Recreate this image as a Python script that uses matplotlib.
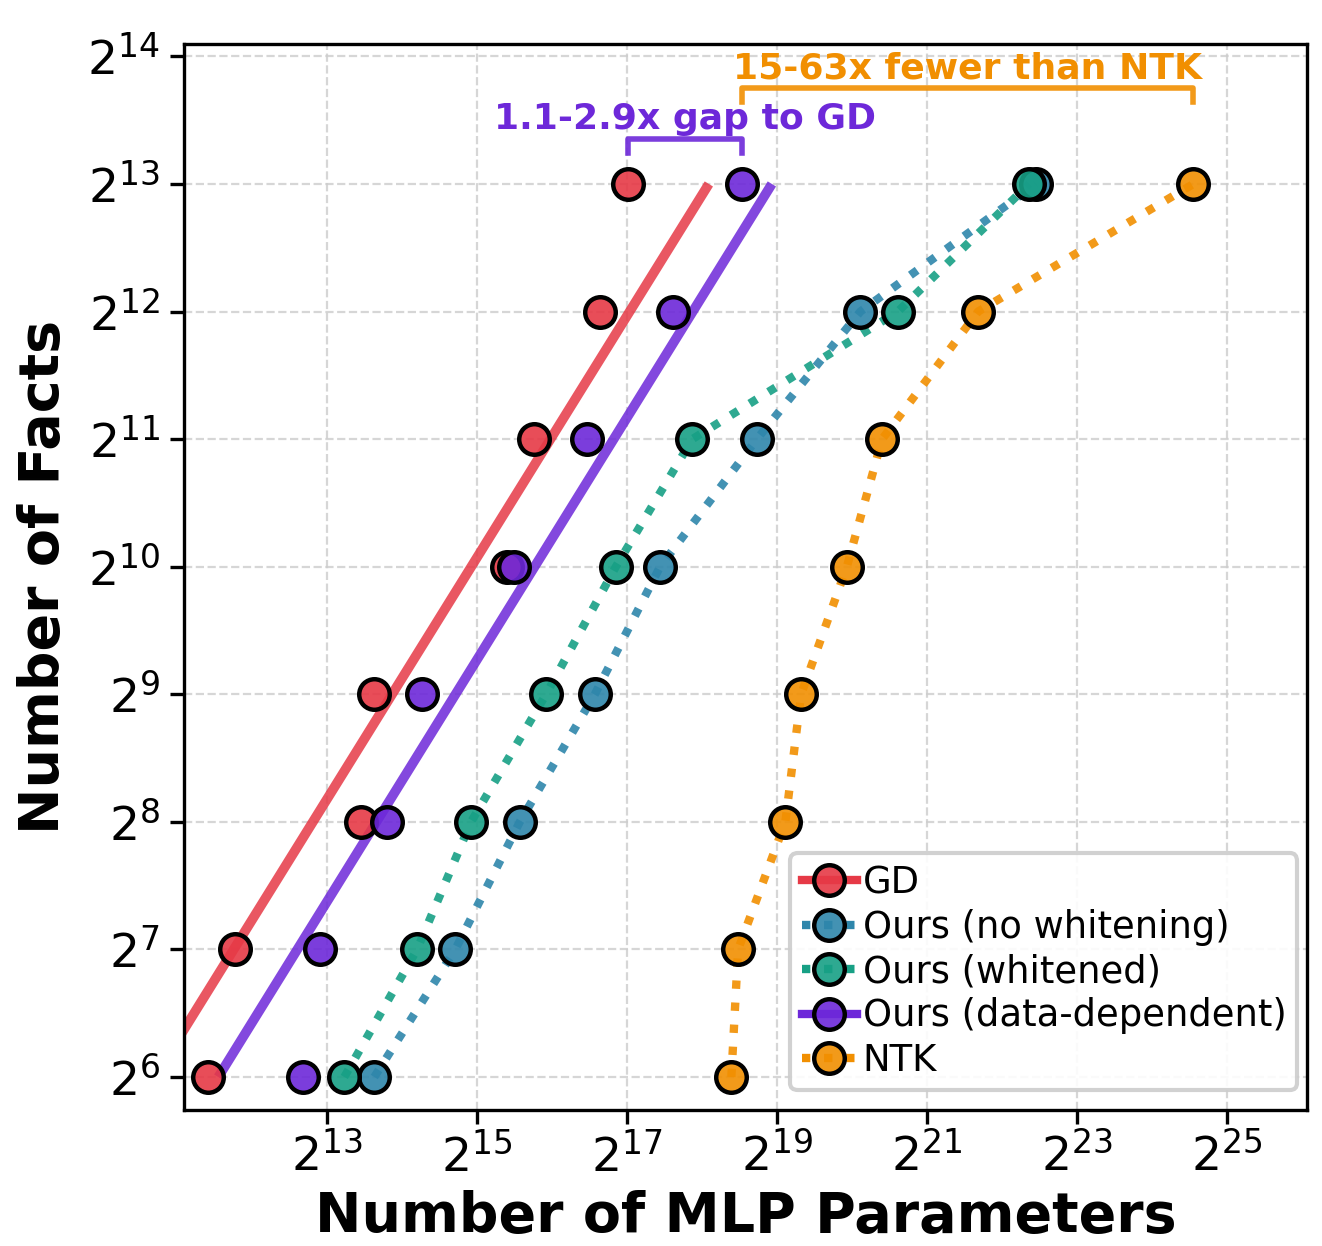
import matplotlib as mpl
mpl.use('Agg')
import matplotlib.pyplot as plt
import numpy as np
from matplotlib.lines import Line2D
from matplotlib.colors import to_rgba
from matplotlib.ticker import LogFormatterSciNotation, NullLocator

# number of facts (y) for every series
facts = [64, 128, 256, 512, 1024, 2048, 4096, 8192]

# log2 of the MLP parameter count
gd_log2 = [11.41, 11.77, 13.45, 13.63, 15.40, 15.76, 16.64, 17.01]
nowhite_log2 = [13.63, 14.71, 15.57, 16.57, 17.44, 18.73, 20.11, 22.45]
white_log2 = [13.23, 14.20, 14.92, 15.92, 16.85, 17.87, 20.61, 22.36]
datadep_log2 = [12.68, 12.91, 13.80, 14.27, 15.49, 16.47, 17.61, 18.53]
ntk_log2 = [18.39, 18.48, 19.11, 19.32, 19.93, 20.40, 21.68, 24.55]

# fitted trend lines (log2 params at 64 and 8192 facts)
fit_facts = [64, 8192]
gd_fit_log2 = [10.70, 18.09]
datadep_fit_log2 = [11.55, 18.93]

red = '#E63946'
blue = '#2E86AB'
green = '#17A085'
purple = '#6D28D9'
orange = '#F18F01'

fig = plt.figure(figsize=(6.61, 6.23), dpi=200)
ax = fig.add_axes([0.139, 0.109, 0.85, 0.856])
ax.set_xscale('log', base=2)
ax.set_yscale('log', base=2)

# trend lines
ax.plot(np.exp2(gd_fit_log2), fit_facts, color=red, lw=3.5, alpha=0.85, zorder=2,
        solid_capstyle='butt')
ax.plot(np.exp2(datadep_fit_log2), fit_facts, color=purple, lw=3.5, alpha=0.85, zorder=2,
        solid_capstyle='butt')

# dotted connecting lines
for xs, c in [(nowhite_log2, blue), (white_log2, green), (ntk_log2, orange)]:
    ax.plot(np.exp2(xs), facts, color=c, ls=':', lw=3, alpha=0.9, zorder=2)

series = [
    ('GD', gd_log2, red, '-'),
    ('Ours (no whitening)', nowhite_log2, blue, ':'),
    ('Ours (whitened)', white_log2, green, ':'),
    ('Ours (data-dependent)', datadep_log2, purple, '-'),
    ('NTK', ntk_log2, orange, ':'),
]
handles = []
for name, xs, c, ls in series:
    ax.plot(np.exp2(xs), facts, ls='none', marker='o', ms=11,
            mfc=to_rgba(c, 0.9), mec='black', mew=1.6, zorder=3)
    handles.append(Line2D([], [], color=c, ls=ls, lw=3, marker='o', ms=11,
                          mfc=to_rgba(c, 0.9), mec='black', mew=1.6, label=name))

# brackets
def bracket(x0, x1, ybar, ytick, c, text):
    ax.plot(np.exp2([x0, x0, x1, x1]), np.exp2([ytick, ybar, ybar, ytick]),
            color=c, lw=2, alpha=0.9, clip_on=False, zorder=4)
    ax.text(np.exp2((x0 + x1) / 2), np.exp2(ybar + 0.08), text, color=c,
            fontsize=13, fontweight='bold', ha='center', va='baseline')

bracket(gd_log2[-1], datadep_log2[-1], 13.35, 13.24, purple, '1.1-2.9x gap to GD')
bracket(datadep_log2[-1], ntk_log2[-1], 13.75, 13.64, orange, '15-63x fewer than NTK')

ax.set_xlim(2 ** 11.09, 2 ** 26.07)
ax.set_ylim(2 ** 5.74, 2 ** 14.1)
ax.set_xticks([2 ** 13, 2 ** 15, 2 ** 17, 2 ** 19, 2 ** 21, 2 ** 23, 2 ** 25])
ax.set_yticks([2 ** 6, 2 ** 7, 2 ** 8, 2 ** 9, 2 ** 10, 2 ** 11, 2 ** 12, 2 ** 13, 2 ** 14])
ax.xaxis.set_major_formatter(LogFormatterSciNotation(base=2))
ax.yaxis.set_major_formatter(LogFormatterSciNotation(base=2))
ax.xaxis.set_minor_locator(NullLocator())
ax.yaxis.set_minor_locator(NullLocator())
ax.tick_params(labelsize=17, length=5, width=1.2)
for s in ax.spines.values():
    s.set_linewidth(1.2)

ax.grid(True, ls='--', lw=0.8, color='#cccccc', alpha=0.8)
ax.set_axisbelow(True)

ax.set_xlabel('Number of MLP Parameters', fontsize=20, fontweight='bold', labelpad=3)
ax.set_ylabel('Number of Facts', fontsize=20, fontweight='bold', labelpad=6)

leg = ax.legend(handles=handles, loc='lower right', bbox_to_anchor=(0.991, 0.019),
                borderaxespad=0, fontsize=13.3, labelspacing=0.2,
                handlelength=1.5, handletextpad=0.15, borderpad=0.3, framealpha=0.9,
                fancybox=True)
leg.get_frame().set_edgecolor('#cccccc')
leg.get_frame().set_linewidth(1.5)

fig.savefig('out.png', dpi=200)
